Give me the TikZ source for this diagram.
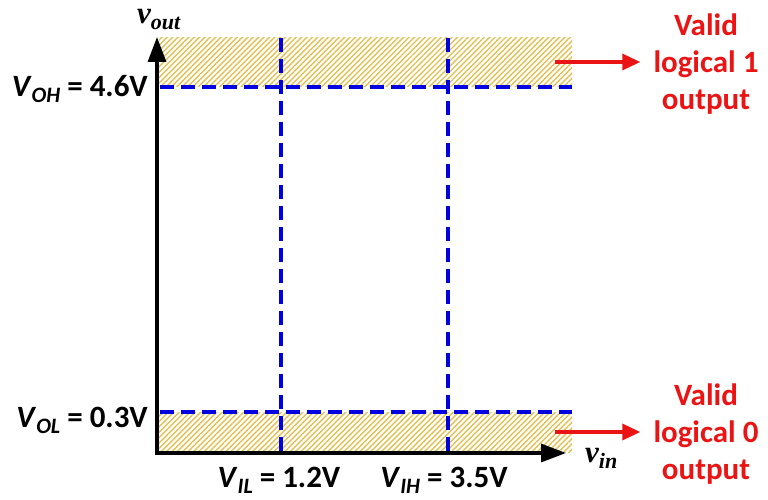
\documentclass[tikz,border=0pt]{standalone}
\usepackage{fontspec}
\setmainfont{Carlito}
\newfontfamily\tms{Liberation Serif}
\usetikzlibrary{arrows.meta,patterns.meta}
\definecolor{hatch}{RGB}{226,192,84}
\definecolor{hatchbg}{RGB}{253,246,220}
\definecolor{dblue}{RGB}{0,0,225}
\definecolor{vred}{RGB}{235,20,20}
\begin{document}
\begin{tikzpicture}[x=1pt,y=-1pt,
  hatchbox/.style={fill=hatchbg,pattern={Lines[angle=45,distance=3.8pt,line width=1.4pt]},pattern color=hatch},
  dline/.style={draw=dblue,line width=4.2pt,dash pattern=on 14pt off 7pt},
  axis/.style={draw=black,line width=3.2pt,-{Triangle[length=25pt,width=18pt]}},
  redarrow/.style={draw=vred,line width=3.4pt,-{Triangle[length=18pt,width=16pt]}},
  lab/.style={font=\bfseries\fontsize{31}{33}\selectfont,inner sep=0pt},
  redlab/.style={font=\bfseries\fontsize{31}{37}\selectfont,text=vred,align=center,inner sep=0pt},
  axlab/.style={font=\tms\bfseries\itshape\fontsize{31}{31}\selectfont,inner sep=0pt}]
\useasboundingbox (0,0) rectangle (768,500);
% coordinates
\coordinate (o) at (157,453);
\coordinate (ytop) at (157,37);
\coordinate (xend) at (566,453);
% hatched regions
\fill[hatchbox] (159,38) rectangle (572,87);
\fill[hatchbox] (159,412) rectangle (572,452);
% dashed lines
\coordinate (oh1) at (160,87);  \coordinate (oh2) at (572,87);
\coordinate (ol1) at (160,412); \coordinate (ol2) at (572,412);
\coordinate (il1) at (281,38);  \coordinate (il2) at (281,453);
\coordinate (ih1) at (448,38);  \coordinate (ih2) at (448,453);
\draw[dline] (oh1) -- (oh2);
\draw[dline] (ol1) -- (ol2);
\draw[dline] (il1) -- (il2);
\draw[dline] (ih1) -- (ih2);
% axes
\draw[axis] (o) -- (ytop);
\draw[axis] ([xshift=-1.6pt]o) -- (xend);
% axis labels
\node[axlab,anchor=base west] (vout) at (137,24) {v\raisebox{-6pt}{\fontsize{22}{22}\selectfont out}};
\node[axlab,anchor=base west] (vin) at (585,462) {v\raisebox{-6pt}{\fontsize{22}{22}\selectfont in}};
% value labels
\node[lab,anchor=base east] (voh) at (148,97) {\textit{V}\raisebox{-6pt}{\fontsize{22}{22}\selectfont\textit{OH}} = 4.6V};
\node[lab,anchor=base east] (vol) at (148,427) {\textit{V}\raisebox{-6pt}{\fontsize{22}{22}\selectfont\textit{OL}} = 0.3V};
\node[lab,anchor=base] (vil) at (279,487) {\textit{V}\raisebox{-6pt}{\fontsize{22}{22}\selectfont\textit{IL}} = 1.2V};
\node[lab,anchor=base] (vih) at (444,487) {\textit{V}\raisebox{-6pt}{\fontsize{22}{22}\selectfont\textit{IH}} = 3.5V};
% red annotations
\node[redlab] (t1) at (706,64) {Valid\\logical 1\\output};
\node[redlab] (t0) at (706,434) {Valid\\logical 0\\output};
\coordinate (a1) at (555,62);
\coordinate (a0) at (555,432);
\draw[redarrow] (a1) -- ([xshift=-13pt]t1.west |- a1);
\draw[redarrow] (a0) -- ([xshift=-13pt]t0.west |- a0);
\end{tikzpicture}
\end{document}
